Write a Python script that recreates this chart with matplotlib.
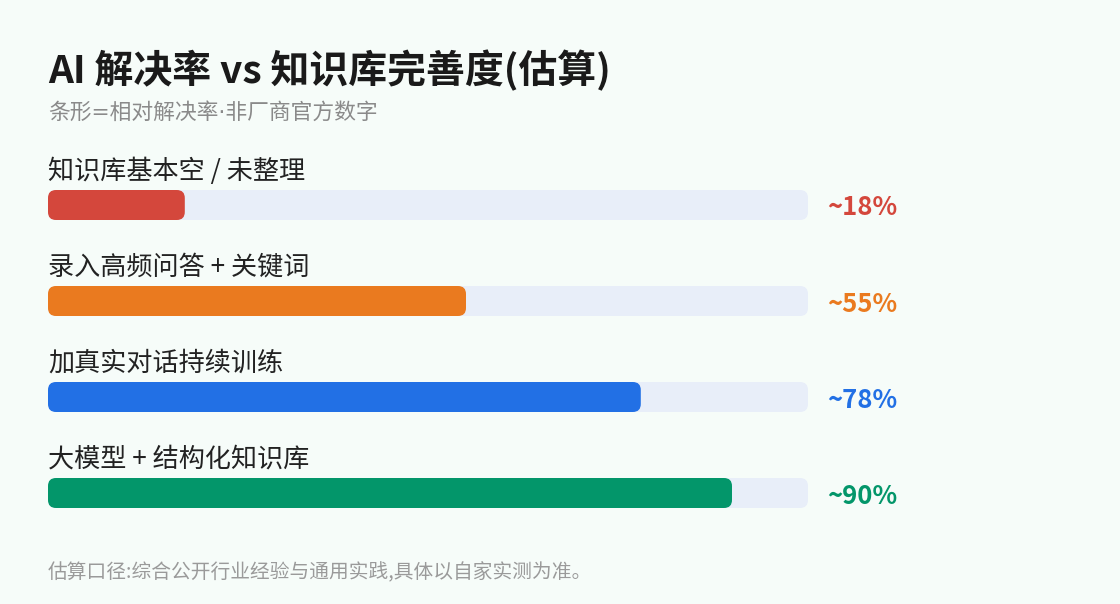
"""AI resolution rate vs knowledge-base maturity (estimated)."""

import matplotlib

matplotlib.use("Agg")
import matplotlib.pyplot as plt
from matplotlib.patches import FancyBboxPatch

plt.rcParams["font.family"] = ["Noto Sans CJK SC", "DejaVu Sans"]

labels = ["知识库基本空 / 未整理", "录入高频问答 + 关键词", "加真实对话持续训练", "大模型 + 结构化知识库"]
values = [18, 55, 78, 90]
value_labels = ["~18%", "~55%", "~78%", "~90%"]
colors = ["#d4473c", "#ea7a1f", "#2270e5", "#03966a"]

title = "AI 解决率 vs 知识库完善度(估算)"
subtitle = "条形=相对解决率·非厂商官方数字"
footer = "估算口径:综合公开行业经验与通用实践,具体以自家实测为准。"

W, H = 1120, 604
BG = "#f6fcf9"
TRACK = "#e8eef9"

fig = plt.figure(figsize=(W / 100, H / 100), dpi=100, facecolor=BG)

# bar area: 760 px wide starting at x=48, 96 px per row
row_px = 96
top_px = 157
ax = fig.add_axes([48 / W, 1 - (top_px + row_px * len(values)) / H, 760 / W, row_px * len(values) / H])
ax.set_xlim(0, 100)
ax.set_ylim(len(values), 0)
ax.axis("off")
ax.set_facecolor("none")

bar_h = 30 / row_px
aspect = (1 / row_px) / (100 / 760)
radius = 8 * 100 / 760

for i, (lab, v, vl, c) in enumerate(zip(labels, values, value_labels, colors)):
    yc = i + 0.5
    track = FancyBboxPatch((0, yc - bar_h / 2), 100, bar_h,
                           boxstyle=f"round,pad=0,rounding_size={radius}",
                           mutation_aspect=aspect, fc=TRACK, ec="none")
    ax.add_patch(track)
    bar = FancyBboxPatch((0, yc - bar_h / 2), v, bar_h,
                         boxstyle=f"round,pad=0,rounding_size={radius}",
                         mutation_aspect=aspect, fc=c, ec="none")
    ax.add_patch(bar)
    ax.text(0, yc - 34 / row_px, lab, fontsize=18.8, color="#222222", va="center", ha="left")
    ax.text(100 + 19 * 100 / 760, yc + 3 / row_px, vl, fontsize=18.5, fontweight="bold",
            color=c, va="center", ha="left", clip_on=False)

fig.text(48 / W, 1 - 71 / H, title, fontsize=28, fontweight="bold", color="#1a1a1a", va="center")
fig.text(48 / W, 1 - 112 / H, subtitle, fontsize=15.7, color="#8a8a8a", va="center",
         family=["DejaVu Sans", "Noto Sans CJK SC"])
fig.text(48 / W, 1 - 573 / H, footer, fontsize=14.2, color="#9a9a9a", va="center")

fig.savefig("out.png", dpi=100, facecolor=BG)
